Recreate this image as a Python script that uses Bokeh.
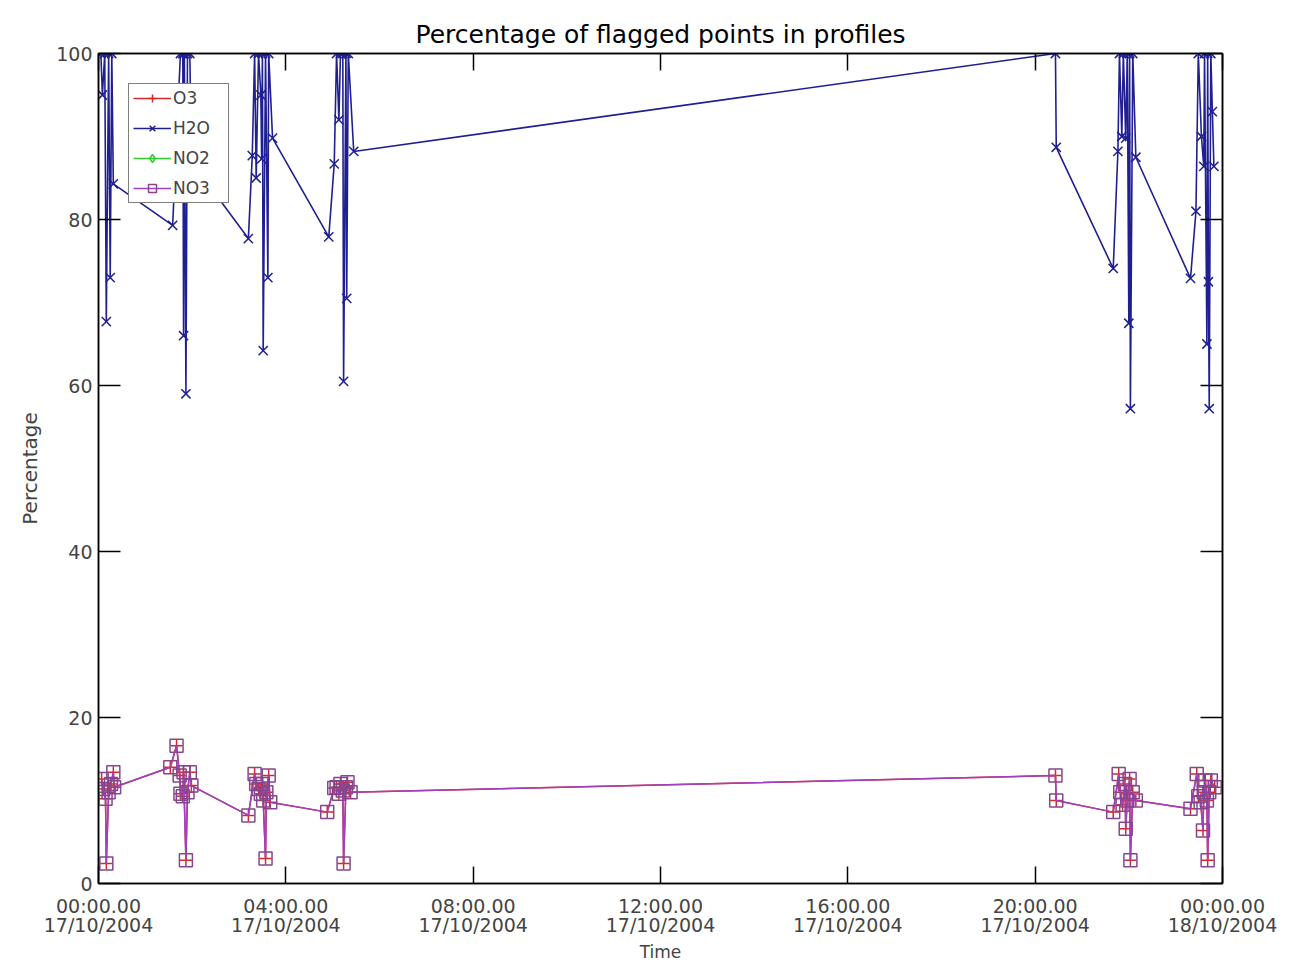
from bokeh.plotting import figure
from bokeh.models import Range1d, FixedTicker, LinearAxis, Legend, LegendItem
from bokeh.embed import file_html
from bokeh.resources import INLINE

NAN = float("nan")

# Time in minutes after 00:00 17/10/2004, values in percent
h2o_min = [3, 5, 8, 10, 13, 15, 17, 19,
           95, 105, 108, 109, 110, 112, 114, 117, 119,
           192, 197, 200, 202, 205, 208, 209, 210, 211, 214, 217, 218, 223,
           295, 302, 305, 308, 310, 313, 314, 317, 318, 320, 327,
           1226, 1227, 1300, 1306, 1308, 1311, 1313, 1316, 1318, 1320, 1321, 1322, 1325, 1329,
           1399, 1406, 1409, 1413, 1416, 1417, 1420, 1421, 1422, 1423, 1425, 1427, 1429]
h2o_pct = [100, 95, 100, 67.7, 100, 73, 100, 84.3,
           79.3, 100, 100, 66, 100, 59, 100, 100, 87,
           77.7, 87.7, 100, 85, 100, 95, 87.3, 100, 64.2, 100, 73, 100, 89.8,
           77.9, 86.7, 100, 92, 100, 100, 60.5, 100, 70.5, 100, 88.2,
           100, 88.7, 74.1, 88.2, 100, 90, 100, 89.8, 100, 67.5, 100, 57.2, 100, 87.5,
           72.9, 81, 100, 90, 86.4, 100, 65, 100, 72.5, 57.2, 100, 93, 86.4]

no3_min = [4, 6, 9, 10, 13, 16, 19, 20,
           92, 100, 104, 105, 108, 109, 112, 114, 117, 119,
           192, 200, 202, 205, 208, 210, 211, 214, 215, 218, 220,
           293, 302, 305, 308, 310, 313, 314, 317, 319, 323,
           1226, 1227, 1300, 1307, 1309, 1312, 1315, 1316, 1318, 1321, 1322, 1325, 1329,
           1399, 1407, 1409, 1412, 1415, 1416, 1418, 1420, 1421, 1423, 1425, 1430]
no3_pct = [12.6, 11.4, 10.2, 2.4, 11.0, 12.0, 13.4, 11.6,
           14.0, 16.6, 13.0, 10.8, 10.5, 13.4, 2.8, 11.0, 13.4, 11.8,
           8.2, 13.2, 12.0, 11.4, 10.8, 12.0, 10.0, 3.0, 11.0, 13.0, 9.8,
           8.6, 11.5, 11.6, 10.8, 12.0, 11.2, 2.4, 11.6, 12.2, 11.0,
           13.0, 10.0, 8.6, 13.2, 11.0, 9.5, 12.0, 6.6, 10.0, 12.6, 2.8, 11.0, 10.0,
           9.0, 13.2, 10.5, 9.8, 6.4, 11.0, 12.4, 10.0, 2.8, 11.0, 12.4, 11.6]

# O3 lies under NO3 (same values); NO2 shows no visible points
o3_min = list(no3_min)
o3_pct = list(no3_pct)
no2_min = [NAN]
no2_pct = [NAN]

tick_hours = [0, 4, 8, 12, 16, 20, 24]
tick_labels = ["00:00.00\n17/10/2004", "04:00.00\n17/10/2004", "08:00.00\n17/10/2004",
               "12:00.00\n17/10/2004", "16:00.00\n17/10/2004", "20:00.00\n17/10/2004",
               "00:00.00\n18/10/2004"]
y_ticks = [0, 20, 40, 60, 80, 100]

FONT = "DejaVu Sans"

def hours(mins):
    return [m / 60.0 for m in mins]

p = figure(width=1300, height=967, output_backend="svg", toolbar_location=None,
           x_range=Range1d(0, 24), y_range=Range1d(0, 100),
           min_border_left=98, min_border_right=78, min_border_top=53, min_border_bottom=84,
           background_fill_color="white", border_fill_color="white")
p.xgrid.visible = False
p.ygrid.visible = False
p.outline_line_color = "black"
p.outline_line_width = 1.5

p.title.text = "Percentage of flagged points in profiles"
p.title.align = "center"
p.title.text_font = FONT
p.title.text_font_size = "25px"
p.title.text_font_style = "normal"
p.title.text_color = "black"
p.title.standoff = 9

def style_x(ax, labels=True):
    ax.ticker = FixedTicker(ticks=tick_hours)
    ax.major_tick_in = 17
    ax.major_tick_out = 0
    ax.minor_tick_line_color = None
    ax.axis_line_color = "black"
    ax.axis_line_width = 1.5
    ax.major_tick_line_color = "black"
    ax.major_tick_line_width = 1.5
    if labels:
        ax.major_label_overrides = {h: l for h, l in zip(tick_hours, tick_labels)}
        ax.major_label_text_font = FONT
        ax.major_label_text_font_size = "19px"
        ax.major_label_text_line_height = 0.9
        ax.major_label_standoff = 11
        ax.axis_label = "Time"
        ax.axis_label_text_font = FONT
        ax.axis_label_text_font_size = "17px"
        ax.axis_label_text_font_style = "normal"
        ax.axis_label_standoff = 3
    else:
        ax.major_label_text_font_size = "0px"
        ax.major_label_standoff = 0

def style_y(ax, labels=True):
    ax.ticker = FixedTicker(ticks=y_ticks)
    ax.major_tick_in = 22
    ax.major_tick_out = 0
    ax.minor_tick_line_color = None
    ax.axis_line_color = "black"
    ax.axis_line_width = 1.5
    ax.major_tick_line_color = "black"
    ax.major_tick_line_width = 1.5
    if labels:
        ax.major_label_text_font = FONT
        ax.major_label_text_font_size = "19px"
        ax.major_label_standoff = 6
        ax.axis_label = "Percentage"
        ax.axis_label_text_font = FONT
        ax.axis_label_text_font_size = "20px"
        ax.axis_label_text_font_style = "normal"
        ax.axis_label_standoff = 11
    else:
        ax.major_label_text_font_size = "0px"
        ax.major_label_standoff = 0

style_x(p.xaxis[0])
style_y(p.yaxis[0])
top_ax = LinearAxis()
style_x(top_ax, labels=False)
p.add_layout(top_ax, "above")
right_ax = LinearAxis()
style_y(right_ax, labels=False)
p.add_layout(right_ax, "right")

O3_C = "#d42a2a"
H2O_C = "#1f1f92"
NO2_C = "#33cc33"
NO3_C = "#a040c0"

o3_l = p.line(hours(o3_min), o3_pct, line_color=O3_C, line_width=1.5)
o3_s = p.scatter(hours(o3_min), o3_pct, marker="cross", size=12, line_color=O3_C, line_width=1.5)
h2o_l = p.line(hours(h2o_min), h2o_pct, line_color=H2O_C, line_width=1.6)
h2o_s = p.scatter(hours(h2o_min), h2o_pct, marker="x", size=13, line_color=H2O_C, line_width=1.5)
no2_l = p.line(hours(no2_min), no2_pct, line_color=NO2_C, line_width=1.5)
no2_s = p.scatter(hours(no2_min), no2_pct, marker="diamond", size=12, line_color=NO2_C,
                  fill_color=None, line_width=1.5)
no3_l = p.line(hours(no3_min), no3_pct, line_color=NO3_C, line_width=1.5)
no3_s = p.scatter(hours(no3_min), no3_pct, marker="square", size=13, line_color="#86468e",
                  fill_color=None, line_width=1.5)

legend = Legend(items=[
    LegendItem(label="O3", renderers=[o3_l, o3_s]),
    LegendItem(label="H2O", renderers=[h2o_l, h2o_s]),
    LegendItem(label="NO2", renderers=[no2_l, no2_s]),
    LegendItem(label="NO3", renderers=[no3_l, no3_s]),
], location="top_left")
legend.margin = 30
legend.padding = 4
legend.spacing = 10
legend.glyph_width = 38
legend.glyph_height = 20
legend.label_standoff = 2
legend.label_text_font = FONT
legend.label_text_font_size = "17px"
legend.label_height = 20
legend.label_width = 51
legend.border_line_color = "black"
legend.border_line_width = 1.5
legend.background_fill_color = "white"
legend.background_fill_alpha = 1.0
p.add_layout(legend, "center")

open("out.html", "w").write(file_html(p, INLINE))
